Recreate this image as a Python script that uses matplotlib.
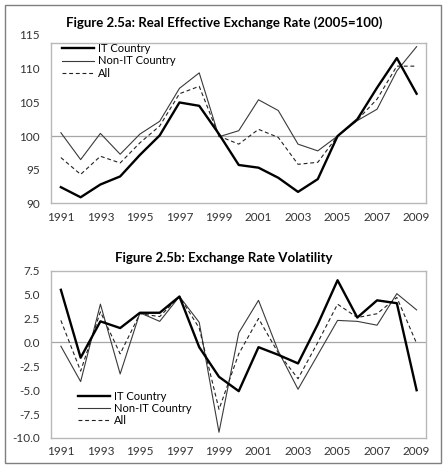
import matplotlib
matplotlib.use("Agg")
import matplotlib.pyplot as plt
from matplotlib.patches import Rectangle

plt.rcParams['font.family'] = ['Lato', 'DejaVu Sans']

years = list(range(1991, 2010))
xtick_years = list(range(1991, 2010, 2))

# Figure 2.5a: real effective exchange rate (2005=100)
reer_it = [92.4, 90.9, 92.8, 94.0, 97.2, 100.1, 105.0, 104.5, 100.3, 95.7,
           95.3, 93.8, 91.7, 93.6, 100.0, 102.5, 107.2, 111.6, 106.3]
reer_non_it = [100.5, 96.5, 100.4, 97.3, 100.3, 102.2, 107.1, 109.4, 99.9, 100.8,
               105.4, 103.8, 98.8, 97.8, 100.0, 102.3, 104.0, 109.7, 113.3]
reer_all = [96.8, 94.3, 97.0, 96.0, 99.0, 101.5, 106.3, 107.4, 100.0, 98.8,
            101.0, 99.8, 95.8, 96.1, 100.0, 102.4, 105.5, 110.4, 110.4]
reer_yticks = [90, 95, 100, 105, 110]

# Figure 2.5b: exchange rate volatility
vol_it = [5.5, -1.6, 2.2, 1.5, 3.1, 3.1, 4.8, -0.5, -3.6, -5.1,
          -0.5, -1.3, -2.2, 1.9, 6.5, 2.6, 4.4, 4.1, -5.0]
vol_non_it = [-0.4, -4.1, 4.0, -3.3, 3.1, 2.2, 4.8, 2.1, -9.4, 1.0,
              4.4, -0.9, -4.9, -1.3, 2.3, 2.2, 1.8, 5.1, 3.4]
vol_all = [2.3, -3.0, 3.2, -1.2, 3.0, 2.7, 4.8, 1.5, -7.0, -1.2,
           2.5, -1.1, -3.8, 0.0, 4.0, 2.6, 3.0, 4.7, -0.1]
vol_yticks = [-10.0, -7.5, -5.0, -2.5, 0.0, 2.5, 5.0, 7.5]

labels = ['IT Country', 'Non-IT Country', 'All']

tick_color = '#333333'
frame_color = '#b8b8b8'


def style_axes(ax):
    for s in ax.spines.values():
        s.set_color(frame_color)
        s.set_linewidth(1.0)
    ax.tick_params(length=0, labelsize=8.5, colors=tick_color)
    ax.tick_params(axis='y', pad=8)
    ax.tick_params(axis='x', pad=6)
    ax.set_xlim(1990.5, 2009.5)
    ax.set_xticks(xtick_years)


def draw_series(ax, it, non_it, allc):
    ax.plot(years, it, color='black', lw=1.7, label=labels[0], zorder=4)
    ax.plot(years, non_it, color='#3a3a3a', lw=0.8, label=labels[1], zorder=3)
    ax.plot(years, allc, color='#222222', lw=0.8, ls=(0, (3.5, 2.5)), label=labels[2], zorder=3)


fig = plt.figure(figsize=(4.45, 4.66), dpi=100)

# top panel
ax1 = fig.add_axes([0.1146, 0.5637, 0.8438, 0.3434])
style_axes(ax1)
ax1.axhline(100, color='#a6a6a6', lw=0.9, zorder=1)
draw_series(ax1, reer_it, reer_non_it, reer_all)
ax1.set_ylim(90, 113.8)
ax1.set_yticks(reer_yticks)
# the 115 label sits above the plot frame in the original
ax1.annotate('115', xy=(0, 115), xycoords=ax1.get_yaxis_transform(),
             xytext=(-8, 0), textcoords='offset points', ha='right', va='center',
             fontsize=8.5, color=tick_color, annotation_clip=False)
ax1.legend(loc='upper left', bbox_to_anchor=(0.03, 1.0), frameon=False,
           fontsize=8, handlelength=2.9, handletextpad=0.3, labelspacing=0.1,
           borderpad=0, borderaxespad=0)
fig.text(0.503, 0.951, 'Figure 2.5a: Real Effective Exchange Rate (2005=100)',
         ha='center', va='center', fontsize=9.5, fontweight='bold')

# bottom panel
ax2 = fig.add_axes([0.1146, 0.0601, 0.8438, 0.359])
style_axes(ax2)
ax2.axhline(0, color='#a6a6a6', lw=0.9, zorder=1)
draw_series(ax2, vol_it, vol_non_it, vol_all)
ax2.set_ylim(-10, 7.5)
ax2.set_yticks(vol_yticks)
ax2.set_yticklabels([f'{v:.1f}' for v in vol_yticks])
ax2.legend(loc='lower left', bbox_to_anchor=(0.072, 0.07), frameon=False,
           fontsize=8, handlelength=2.9, handletextpad=0.3, labelspacing=0.1,
           borderpad=0, borderaxespad=0)
fig.text(0.503, 0.447, 'Figure 2.5b: Exchange Rate Volatility',
         ha='center', va='center', fontsize=9.5, fontweight='bold')

# outer border
fig.patches.append(Rectangle((0.0112, 0.0064), 0.98, 0.983, transform=fig.transFigure,
                             fill=False, edgecolor='#7f7f7f', lw=1.0))

fig.savefig('out.png', dpi=100)
